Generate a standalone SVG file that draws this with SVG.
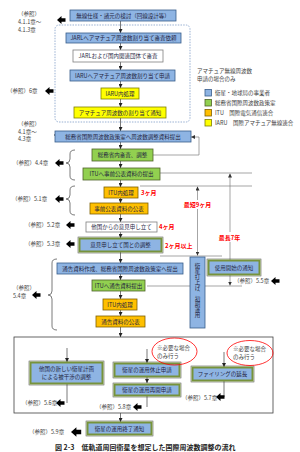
<svg xmlns="http://www.w3.org/2000/svg" xmlns:xlink="http://www.w3.org/1999/xlink" width="300" height="452" viewBox="0 0 300 452">
<style>
text{font-family:"Noto Sans CJK JP","Noto Sans",sans-serif;dominant-baseline:central}
.t{font-size:5.5px;fill:#1F1F3F;text-anchor:middle}
.r{font-size:5.5px;fill:#404040}
.red{font-size:6px;fill:#FF0000;font-weight:bold}
.b{fill:#8EB4E3;stroke:#385D8A;stroke-width:0.8}
.g{fill:#92D050;stroke:#4F6228;stroke-width:0.8}
.o{fill:#FFC000;stroke:#7F6000;stroke-width:0.8}
.y{fill:#FFFF00;stroke:#7F7F00;stroke-width:0.8}
.w{fill:#FFFFFF;stroke:#7F7F7F;stroke-width:0.8}
.bg{fill:#8EB4E3;stroke:#77933C;stroke-width:2}
.bgo{fill:none;stroke:#404040;stroke-width:0.5}
.fl{stroke:#404040;stroke-width:0.7;fill:none;marker-end:url(#ah)}
.gl{stroke:#7F7F7F;stroke-width:0.7;fill:none}
.br{stroke:#595959;stroke-width:0.8;fill:none}
</style>
<defs>
<marker id="ah" viewBox="0 0 6 6" refX="6" refY="3" markerWidth="4" markerHeight="4" orient="auto" markerUnits="userSpaceOnUse"><path d="M0,0 L6,3 L0,6 Z" fill="#222"/></marker>
<marker id="ahg" viewBox="0 0 6 6" refX="6" refY="3" markerWidth="4" markerHeight="4" orient="auto" markerUnits="userSpaceOnUse"><path d="M0,0 L6,3 L0,6 Z" fill="#333"/></marker>
<path id="ba" d="M0,0 L4.5,-4 L4.5,-1.8 L8.5,-1.8 L8.5,1.8 L4.5,1.8 L4.5,4 Z" fill="#000"/>
</defs>
<rect width="300" height="452" fill="#fff"/>

<!-- region boxes -->
<rect id="amateur-region" x="55" y="25" width="135" height="97" rx="4" fill="none" stroke="#6F8FC0" stroke-width="0.7" stroke-dasharray="1.5,1.2"/>
<rect id="optional-region" x="14" y="337" width="259" height="76" fill="none" stroke="#404040" stroke-width="0.8"/>

<!-- connectors -->
<g id="connectors">
<line class="fl" x1="120.5" y1="21" x2="120.5" y2="33"/>
<line class="fl" x1="120.5" y1="43" x2="120.5" y2="50"/>
<line class="fl" x1="120.5" y1="62" x2="120.5" y2="70"/>
<line class="fl" x1="120.5" y1="81" x2="120.5" y2="88"/>
<line class="fl" x1="120.5" y1="99" x2="120.5" y2="107"/>
<line class="fl" x1="120.5" y1="118" x2="120.5" y2="131"/>
<line class="fl" x1="120.5" y1="142" x2="120.5" y2="149"/>
<line class="fl" x1="120.5" y1="161" x2="120.5" y2="168"/>
<line class="fl" x1="120.5" y1="180" x2="120.5" y2="187"/>
<line class="fl" x1="120.5" y1="198" x2="120.5" y2="203"/>
<line class="fl" x1="120.5" y1="214" x2="120.5" y2="222"/>
<line class="fl" x1="120.5" y1="232" x2="120.5" y2="238"/>
<line class="fl" x1="120.5" y1="252" x2="120.5" y2="263"/>
<line class="fl" x1="120.5" y1="274" x2="120.5" y2="280"/>
<line class="fl" x1="120.5" y1="291" x2="120.5" y2="299"/>
<line class="fl" x1="120.5" y1="310" x2="120.5" y2="316"/>
<line class="fl" x1="120.5" y1="327" x2="120.5" y2="337"/>
<line class="fl" x1="120.5" y1="413" x2="120.5" y2="422"/>
<!-- feedback -->
<polyline class="gl" points="153,155 199,155 199,137 191,137" marker-end="url(#ahg)"/>
<!-- timing lines -->
<line class="gl" x1="160" y1="173" x2="252" y2="173"/>
<line class="gl" x1="140" y1="186" x2="252" y2="186"/>
<line class="gl" x1="160" y1="256" x2="222" y2="256"/>
<line class="gl" x1="147" y1="286" x2="242" y2="286"/>
<line class="gl" x1="197.5" y1="200" x2="197.5" y2="186.5" marker-end="url(#ahg)"/>
<line class="gl" x1="197.5" y1="209" x2="197.5" y2="255.5" marker-end="url(#ahg)"/>
<line class="gl" x1="230" y1="232" x2="230" y2="173.5" marker-end="url(#ahg)"/>
<line class="gl" x1="230" y1="242" x2="230" y2="285.5" marker-end="url(#ahg)"/>
<!-- optional area -->
<line class="fl" x1="67" y1="348" x2="67" y2="362"/>
<line class="fl" x1="147" y1="349" x2="147" y2="363"/>
<line class="fl" x1="147" y1="377" x2="147" y2="383"/>
<line class="fl" x1="224" y1="352" x2="224" y2="367"/>
<line class="br" x1="67" y1="384" x2="67" y2="403"/>
<line class="br" x1="147" y1="396" x2="147" y2="407"/>
<line class="br" x1="224" y1="381" x2="224" y2="397"/>
<!-- braces -->
<path class="br" d="M75,150 Q70,150 70,154 L70,159 Q70,163 66,163 Q70,163 70,167 L70,176 Q70,180 75,180"/>
<path class="br" d="M75,186 Q70,186 70,190 L70,195 Q70,199 66,199 Q70,199 70,203 L70,211 Q70,215 75,215"/>
<path class="br" d="M57,259 Q52,259 52,263 L52,291 Q52,295 48,295 Q52,295 52,299 L52,326 Q52,330 57,330"/>
</g>

<!-- reference pointers -->
<g id="references">
<text class="r" x="18" y="14">（参照）</text>
<text class="r" x="18" y="22">4.1.1章～</text>
<text class="r" x="18" y="30">4.1.3章</text>
<use href="#ba" transform="translate(57,20)"/>
<text class="r" x="7" y="91">（参照）6章</text>
<use href="#ba" transform="translate(45,91)"/>
<text class="r" x="18" y="124">（参照）</text>
<text class="r" x="18" y="132">4.1章～</text>
<text class="r" x="18" y="139">4.3章</text>
<use href="#ba" transform="translate(54,135)"/>
<text class="r" x="13" y="163">（参照）4.4章</text>
<use href="#ba" transform="translate(55,163)"/>
<text class="r" x="12" y="199">（参照）5.1章</text>
<use href="#ba" transform="translate(55,199)"/>
<text class="r" x="25" y="225">（参照）5.2章</text>
<use href="#ba" transform="translate(66,225)"/>
<text class="r" x="25" y="244">（参照）5.3章</text>
<use href="#ba" transform="translate(66,244)"/>
<text class="r" x="13" y="288">（参照）</text>
<text class="r" x="13" y="296">5.4章</text>
<use href="#ba" transform="translate(32,295)"/>
<text class="r" x="234" y="281">（参照）5.5章</text>
<use href="#ba" transform="translate(271,281)"/>
<text class="r" x="22" y="403">（参照）5.6章</text>
<use href="#ba" transform="translate(56,403)"/>
<text class="r" x="96" y="407">（参照）5.8章</text>
<use href="#ba" transform="translate(133,407)"/>
<text class="r" x="182" y="398">（参照）5.7章</text>
<use href="#ba" transform="translate(216,397)"/>
<text class="r" x="29" y="432">（参照）5.9章</text>
<use href="#ba" transform="translate(71,432) scale(1.2)"/>
</g>

<!-- timing labels -->
<g id="durations">
<text class="red" x="141" y="192">3ヶ月</text>
<text class="red" x="159" y="226">4ヶ月</text>
<text class="red" x="165" y="245">2ヶ月以上</text>
<text class="red" x="197.5" y="204.5" text-anchor="middle">最短9ヶ月</text>
<text class="red" x="229.5" y="237" text-anchor="middle">最長7年</text>
</g>

<!-- nodes -->
<g id="n1"><rect class="b" x="70" y="10" width="106" height="11"/><text class="t" x="123" y="15.5">無線仕様・諸元の検討（回線設計等）</text></g>
<g id="n2"><rect class="b" x="66" y="33" width="115" height="10"/><text class="t" x="123.5" y="38">JARLへアマチュア周波数割り当て審査依頼</text></g>
<g id="n3"><rect class="w" x="73" y="50" width="90" height="12"/><text class="t" x="118" y="56">JARLおよび国内関連団体で審査</text></g>
<g id="n4"><rect class="b" x="70" y="70" width="105" height="11"/><text class="t" x="122.5" y="75.5">IARUへアマチュア周波数割り当て申請</text></g>
<g id="n5"><rect class="y" x="101" y="88" width="38" height="11"/><text class="t" x="120" y="93.5">IARU内処理</text></g>
<g id="n6"><rect class="y" x="74" y="107" width="92" height="11"/><text class="t" x="120" y="112.5">アマチュア周波数の割り当て通知</text></g>
<g id="n7"><rect class="b" x="55" y="131" width="136" height="11"/><text class="t" x="123" y="136.5">総務省国際周波数政策室へ周波数調整資料提出</text></g>
<g id="n8"><rect class="g" x="92" y="149" width="61" height="12"/><text class="t" x="122.5" y="155">総務省内審査、調整</text></g>
<g id="n9"><rect class="g" x="83" y="168" width="77" height="12"/><text class="t" x="121.5" y="174">ITUへ事前公表資料の提出</text></g>
<g id="n10"><rect class="o" x="104" y="187" width="34" height="11"/><text class="t" x="121" y="192.5">ITU内処理</text></g>
<g id="n11"><rect class="o" x="90" y="203" width="58" height="11"/><text class="t" x="119" y="208.5">事前公表資料の公表</text></g>
<g id="n12"><rect class="w" x="86" y="222" width="71" height="10"/><text class="t" x="121.5" y="227">他国からの意見申し立て</text></g>
<g id="n13"><rect class="bgo" x="78" y="237" width="85" height="16"/><rect class="bg" x="79.5" y="238.5" width="82" height="13"/><text class="t" x="120.5" y="245">意見申し立て国との調整</text></g>
<g id="n14"><rect class="b" x="57" y="263" width="126" height="11"/><text class="t" x="120" y="268.5">通告資料作成、総務省国際周波数政策室へ提出</text></g>
<g id="n15"><rect class="b" x="190" y="257" width="15" height="71"/><text class="t" x="197.5" y="263" style="writing-mode:vertical-rl;text-anchor:start">衛星打上げ、初期運用</text></g>
<g id="n16"><rect class="bgo" x="207" y="259" width="54" height="17"/><rect class="bg" x="208.5" y="260.5" width="51" height="14"/><text class="t" x="234" y="267.5">使用開始の通知</text></g>
<g id="n17"><rect class="g" x="92" y="280" width="53" height="11"/><text class="t" x="118.5" y="285.5">ITUへ通告資料提出</text></g>
<g id="n18"><rect class="o" x="103" y="299" width="34" height="11"/><text class="t" x="120" y="304.5">ITU内処理</text></g>
<g id="n19"><rect class="o" x="96" y="316" width="49" height="11"/><text class="t" x="120.5" y="321.5">通告資料の公表</text></g>
<g id="n20"><rect class="bgo" x="29" y="361" width="75" height="24"/><rect class="bg" x="30.5" y="362.5" width="72" height="21"/><text class="t" x="66.5" y="369">他国の新しい衛星計画</text><text class="t" x="66.5" y="377">による被干渉の調整</text></g>
<g id="n21"><rect class="bgo" x="113" y="362" width="68" height="16"/><rect class="bg" x="114.5" y="363.5" width="65" height="13"/><text class="t" x="147" y="370">衛星の運用休止申請</text></g>
<g id="n22"><rect class="bgo" x="113" y="383" width="68" height="14"/><rect class="bg" x="114.5" y="384.5" width="65" height="11"/><text class="t" x="147" y="390">衛星の運用再開申請</text></g>
<g id="n23"><rect class="bgo" x="191" y="366" width="63" height="16"/><rect class="bg" x="192.5" y="367.5" width="60" height="13"/><text class="t" x="222.5" y="374">ファイリングの延長</text></g>
<g id="n24"><rect class="bgo" x="86" y="421" width="67" height="15"/><rect class="bg" x="87.5" y="422.5" width="64" height="12"/><text class="t" x="119.5" y="428.5">衛星の運用終了通知</text></g>

<!-- optional notes -->
<g id="note1"><ellipse cx="174.5" cy="351.5" rx="22.5" ry="13.5" fill="none" stroke="#FF0000" stroke-width="0.8"/><text class="r" x="157" y="348">※必要な場合</text><text class="r" x="157" y="356">のみ行う</text></g>
<g id="note2"><ellipse cx="250" cy="353" rx="23" ry="12.5" fill="none" stroke="#FF0000" stroke-width="0.8"/><text class="r" x="233" y="349">※必要な場合</text><text class="r" x="233" y="357">のみ行う</text></g>

<!-- legend -->
<g id="legend">
<text class="r" x="197" y="71">アマチュア無線周波数</text>
<text class="r" x="197" y="78.5">申請の場合のみ</text>
<rect class="b" x="205" y="89.5" width="6.5" height="6.5"/><text class="r" x="215" y="93">衛星・地球局の事業者</text>
<rect class="g" x="205" y="99.5" width="6.5" height="6.5"/><text class="r" x="215" y="103">総務省国際周波数政策室</text>
<rect class="o" x="205" y="109.5" width="6.5" height="6.5"/><text class="r" x="215" y="113">ITU　国際電気通信連合</text>
<rect class="y" x="205" y="119.5" width="6.5" height="6.5"/><text class="r" x="215" y="123">IARU　国際アマチュア無線連合</text>
</g>

<text x="55" y="447" style="font-size:7px;font-weight:bold;fill:#222">図 2-3　低軌道周回衛星を想定した国際周波数調整の流れ</text>
</svg>
